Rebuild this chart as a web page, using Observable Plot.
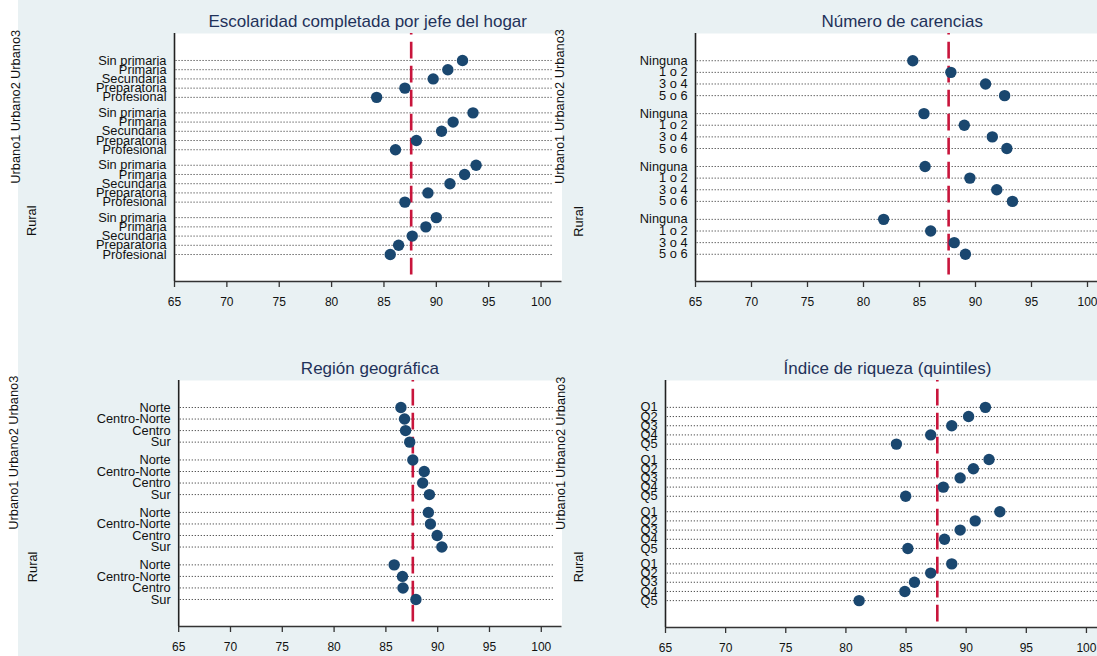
<!DOCTYPE html>
<html>
<head>
<meta charset="utf-8">
<script src="https://cdn.jsdelivr.net/npm/d3@7"></script>
<script src="https://cdn.jsdelivr.net/npm/@observablehq/plot@0.6"></script>
<style>
  html, body { margin: 0; padding: 0; }
  body { width: 1097px; height: 656px; overflow: hidden; position: relative; background: #e9f1f3;
         font-family: "Liberation Sans", Arial, sans-serif; }
  #strip { position: absolute; left: 0; top: 0; width: 18px; height: 656px; background: #ffffff; }
  .panel { position: absolute; }
  .title { position: absolute; font-size: 17px; line-height: 17px; color: #1f325a; white-space: nowrap;
           transform: translateX(-50%); }
</style>
</head>
<body>
<div id="strip"></div>
<script>
// ---------- data ----------
const groups = ["Urbano3", "Urbano2", "Urbano1", "Rural"];
const referenceValue = 87.6;
const xTicks = [65, 70, 75, 80, 85, 90, 95, 100];

const escolaridadTitle = "Escolaridad completada por jefe del hogar";
const escolaridadCats = ["Sin primaria", "Primaria", "Secundaria", "Preparatoria", "Profesional"];
const escolaridadUrbano3 = [92.5, 91.1, 89.7, 87.0, 84.3];
const escolaridadUrbano2 = [93.5, 91.6, 90.5, 88.1, 86.1];
const escolaridadUrbano1 = [93.8, 92.7, 91.3, 89.2, 87.0];
const escolaridadRural   = [90.0, 89.0, 87.7, 86.4, 85.6];

const carenciasTitle = "Número de carencias";
const carenciasCats = ["Ninguna", "1 o 2", "3 o 4", "5 o 6"];
const carenciasUrbano3 = [84.4, 87.8, 90.9, 92.6];
const carenciasUrbano2 = [85.4, 89.0, 91.5, 92.8];
const carenciasUrbano1 = [85.5, 89.5, 91.9, 93.3];
const carenciasRural   = [81.8, 86.0, 88.1, 89.1];

const regionTitle = "Región geográfica";
const regionCats = ["Norte", "Centro-Norte", "Centro", "Sur"];
const regionUrbano3 = [86.45, 86.8, 86.9, 87.3];
const regionUrbano2 = [87.6, 88.7, 88.55, 89.2];
const regionUrbano1 = [89.1, 89.3, 89.95, 90.4];
const regionRural   = [85.8, 86.6, 86.65, 87.9];

const riquezaTitle = "Índice de riqueza (quintiles)";
const riquezaCats = ["Q1", "Q2", "Q3", "Q4", "Q5"];
const riquezaUrbano3 = [91.6, 90.2, 88.8, 87.05, 84.2];
const riquezaUrbano2 = [91.9, 90.6, 89.5, 88.1, 84.97];
const riquezaUrbano1 = [92.8, 90.75, 89.5, 88.2, 85.15];
const riquezaRural   = [88.8, 87.05, 85.7, 84.9, 81.1];

// ---------- drawing ----------
const FONT = "'Liberation Sans', Arial, sans-serif";

function panel(cfg) {
  const {cats, series, title, box, frame, outerDx, ruralDx} = cfg;
  const n = cats.length;
  const step = 0.88 / n;
  const pad = 0.515;
  const rows = [];
  series.forEach((vals, g) => {
    vals.forEach((v, i) => rows.push({group: groups[g], label: cats[i], v, u: g + i * step}));
  });
  const lastU = 3 + (n - 1) * step;
  const yDomain = [-pad, lastU + pad];
  const groupLabels = groups.map((name, g) => ({name, uc: g + (n - 1) * step / 2}));
  const labelByU = new Map(rows.map(r => [r.u, r.label]));

  const width = box.width, height = box.height;
  const svg = Plot.plot({
    width, height,
    marginLeft: frame.left - box.left,
    marginRight: box.left + width - frame.right,
    marginTop: frame.top - box.top,
    marginBottom: box.top + height - frame.bottom,
    x: {domain: [65, 102]},
    y: {domain: yDomain, range: [frame.top - box.top, frame.bottom - box.top]},
    style: {background: "transparent", overflow: "visible", fontFamily: FONT, color: "#111", maxWidth: "none"},
    marks: [
      Plot.frame({fill: "white", stroke: "none"}),
      Plot.ruleY(rows, {y: "u", x1: 65.15, x2: 101.2, stroke: "#222", strokeWidth: 1, strokeDasharray: "1,2"}),
      Plot.ruleX([referenceValue], {stroke: "#c8153c", strokeWidth: 2.6, strokeDasharray: "16.7,7.3", strokeDashoffset: 15.2}),
      Plot.ruleX([65], {stroke: "#222", strokeWidth: 1.6}),
      Plot.ruleY([yDomain[1]], {stroke: "#333", strokeWidth: 1.6}),
      Plot.dot(rows, {x: "v", y: "u", r: 5.7, fill: "#1a476f", stroke: "none"}),
      Plot.axisX({ticks: xTicks, tickSize: 6, tickPadding: 10, fontSize: 12, stroke: "#333", strokeWidth: 1.3, label: null}),
      Plot.axisY({ticks: rows.map(r => r.u), tickFormat: d => labelByU.get(d), tickSize: 0, tickPadding: 8, fontSize: 12.8, label: null}),
      Plot.text(groupLabels.filter(d => d.name !== "Rural"), {y: "uc", text: "name", frameAnchor: "left", rotate: -90, dx: outerDx, fontSize: 12.8, fill: "#111"}),
      Plot.text(groupLabels.filter(d => d.name === "Rural"), {y: "uc", text: "name", frameAnchor: "left", rotate: -90, dx: ruralDx, fontSize: 12.8, fill: "#111"})
    ]
  });
  const div = document.createElement("div");
  div.className = "panel";
  div.style.left = box.left + "px";
  div.style.top = box.top + "px";
  div.style.width = width + "px";
  div.style.height = height + "px";
  div.appendChild(svg);
  document.body.appendChild(div);

  const t = document.createElement("div");
  t.className = "title";
  t.textContent = title;
  t.style.left = ((frame.left + frame.right) / 2) + "px";
  t.style.top = (cfg.titleBaseline - 14.4) + "px";
  document.body.appendChild(t);
}

panel({
  cats: escolaridadCats,
  series: [escolaridadUrbano3, escolaridadUrbano2, escolaridadUrbano1, escolaridadRural],
  title: escolaridadTitle, titleBaseline: 27.3,
  box: {left: 0, top: 0, width: 562, height: 328},
  frame: {left: 174, right: 561.5, top: 33, bottom: 281},
  outerDx: -159, ruralDx: -143
});
panel({
  cats: carenciasCats,
  series: [carenciasUrbano3, carenciasUrbano2, carenciasUrbano1, carenciasRural],
  title: carenciasTitle, titleBaseline: 27.3,
  box: {left: 548, top: 0, width: 562, height: 328},
  frame: {left: 695, right: 1109.4, top: 33, bottom: 281},
  outerDx: -136, ruralDx: -116.5
});
panel({
  cats: regionCats,
  series: [regionUrbano3, regionUrbano2, regionUrbano1, regionRural],
  title: regionTitle, titleBaseline: 374,
  box: {left: 0, top: 330, width: 562, height: 326},
  frame: {left: 178.2, right: 561.5, top: 380, bottom: 626},
  outerDx: -164.8, ruralDx: -146
});
panel({
  cats: riquezaCats,
  series: [riquezaUrbano3, riquezaUrbano2, riquezaUrbano1, riquezaRural],
  title: riquezaTitle, titleBaseline: 374,
  box: {left: 548, top: 330, width: 562, height: 326},
  frame: {left: 665, right: 1110, top: 380, bottom: 627},
  outerDx: -104.5, ruralDx: -86.5
});
</script>
</body>
</html>
